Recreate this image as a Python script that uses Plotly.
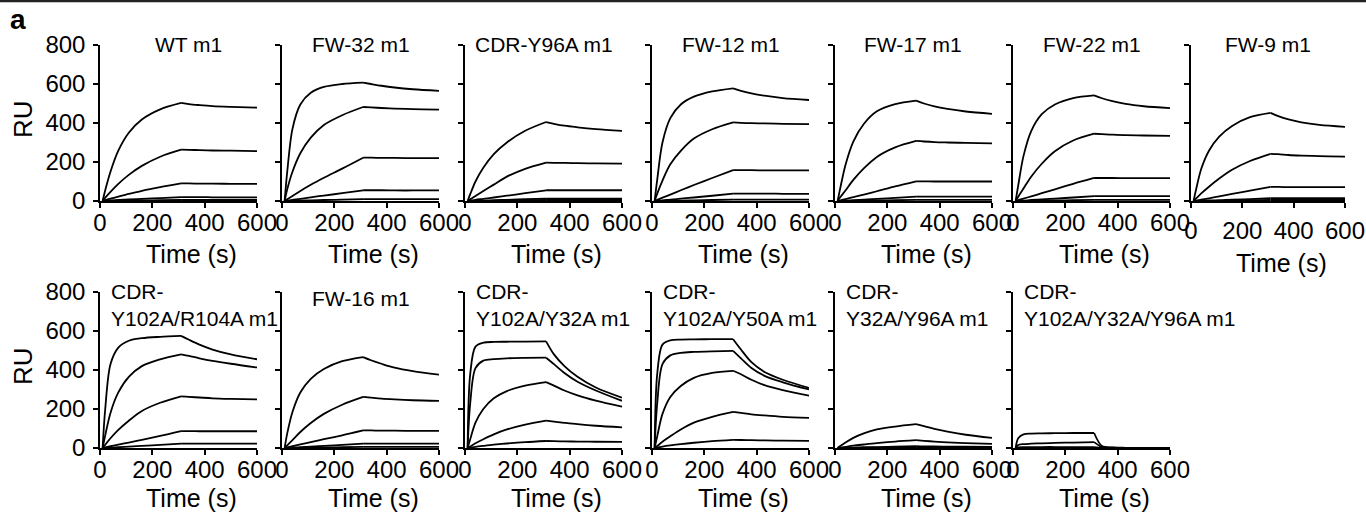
import plotly.graph_objects as go

# Sample times (s): association phase, then dissociation phase
T_ASSOC = [10, 20, 40, 70, 110, 160, 230, 310]
T_DISSOC = [340, 380, 430, 500, 600]

# Response (RU) per analyte concentration: 8 association values followed by 5 dissociation values
WT_M1 = [
    [0, 55, 150, 258, 350, 418, 470, 503, 497, 492, 487, 483, 479],
    [0, 17, 47, 88, 134, 180, 227, 263, 262, 261, 259, 258, 256],
    [0, 4, 12, 23, 36, 52, 71, 90, 90, 89, 89, 88, 88],
    [0, 1, 3, 5, 8, 11, 15, 20, 20, 20, 19, 19, 19],
    [0, 0, 1, 1, 2, 3, 4, 5, 5, 5, 5, 5, 5],
]
FW32_M1 = [
    [0, 150, 370, 495, 555, 585, 600, 607, 600, 591, 582, 573, 565],
    [0, 60, 150, 245, 325, 390, 440, 482, 480, 477, 474, 471, 469],
    [0, 9, 26, 51, 83, 119, 166, 222, 222, 221, 221, 220, 220],
    [0, 2, 6, 11, 19, 28, 40, 55, 55, 55, 54, 54, 54],
    [0, 0, 1, 2, 3, 5, 7, 10, 10, 10, 10, 10, 10],
]
CDR_Y96A_M1 = [
    [0, 35, 100, 170, 240, 300, 360, 405, 396, 386, 378, 369, 360],
    [0, 9, 26, 51, 84, 125, 165, 197, 196, 195, 194, 193, 192],
    [0, 2, 6, 11, 18, 27, 40, 55, 55, 55, 55, 55, 55],
    [0, 0, 1, 2, 4, 6, 9, 12, 12, 12, 12, 12, 12],
    [0, 0, 0, 1, 1, 2, 3, 5, 5, 5, 5, 5, 5],
]
FW12_M1 = [
    [0, 110, 300, 425, 495, 535, 562, 578, 565, 552, 540, 528, 518],
    [0, 38, 105, 188, 257, 320, 368, 403, 401, 399, 398, 396, 394],
    [0, 6, 17, 33, 55, 82, 118, 158, 158, 158, 157, 157, 157],
    [0, 1, 3, 7, 12, 18, 27, 38, 38, 38, 38, 37, 37],
    [0, 0, 1, 1, 2, 3, 5, 7, 7, 7, 7, 7, 7],
]
FW17_M1 = [
    [0, 65, 185, 305, 395, 460, 497, 515, 500, 485, 472, 459, 447],
    [0, 19, 54, 108, 167, 226, 275, 308, 305, 302, 300, 298, 296],
    [0, 3, 10, 20, 33, 50, 75, 101, 101, 100, 100, 100, 100],
    [0, 1, 2, 4, 7, 11, 16, 22, 22, 22, 22, 22, 22],
    [0, 0, 1, 1, 2, 3, 4, 6, 6, 6, 6, 6, 6],
]
FW22_M1 = [
    [0, 80, 230, 360, 445, 495, 528, 542, 527, 512, 498, 486, 476],
    [0, 22, 64, 126, 191, 255, 310, 345, 343, 340, 338, 336, 334],
    [0, 4, 12, 24, 40, 60, 88, 118, 118, 118, 117, 117, 117],
    [0, 1, 2, 5, 8, 12, 18, 25, 25, 25, 25, 25, 25],
    [0, 0, 1, 1, 2, 3, 4, 6, 6, 6, 6, 6, 6],
]
FW9_M1 = [
    [0, 60, 165, 258, 330, 385, 430, 452, 435, 418, 403, 390, 380],
    [0, 13, 39, 73, 115, 160, 205, 242, 240, 236, 233, 230, 228],
    [0, 2, 7, 14, 24, 36, 53, 72, 72, 71, 71, 71, 71],
    [0, 0, 1, 3, 4, 7, 10, 14, 14, 14, 14, 14, 14],
    [0, 0, 0, 1, 1, 2, 3, 5, 5, 5, 5, 5, 5],
]
CDR_Y102A_R104A_M1 = [
    [0, 200, 430, 515, 550, 563, 570, 575, 555, 530, 505, 480, 455],
    [0, 65, 180, 285, 365, 420, 455, 480, 472, 460, 447, 432, 413],
    [0, 17, 50, 93, 140, 190, 232, 265, 262, 259, 255, 252, 249],
    [0, 3, 9, 17, 28, 42, 62, 87, 87, 86, 86, 86, 86],
    [0, 1, 2, 4, 7, 11, 16, 22, 22, 22, 22, 22, 22],
]
FW16_M1 = [
    [0, 75, 185, 285, 355, 405, 445, 466, 450, 432, 412, 394, 376],
    [0, 14, 41, 82, 128, 175, 222, 262, 258, 253, 249, 245, 242],
    [0, 3, 9, 18, 30, 45, 65, 90, 90, 89, 89, 88, 88],
    [0, 1, 2, 4, 7, 11, 16, 22, 22, 22, 22, 22, 22],
    [0, 0, 1, 1, 2, 3, 4, 6, 6, 6, 6, 6, 6],
]
CDR_Y102A_Y32A_M1 = [
    [0, 380, 520, 540, 544, 545, 546, 547, 480, 420, 365, 310, 258],
    [0, 230, 410, 448, 456, 460, 462, 463, 430, 385, 340, 295, 242],
    [0, 45, 130, 200, 255, 292, 320, 338, 320, 295, 270, 243, 212],
    [0, 8, 24, 45, 70, 95, 120, 140, 135, 129, 122, 114, 106],
    [0, 2, 6, 11, 17, 23, 30, 36, 35, 34, 33, 32, 31],
]
CDR_Y102A_Y50A_M1 = [
    [0, 380, 530, 552, 556, 557, 558, 558, 505, 440, 390, 350, 308],
    [0, 230, 430, 475, 488, 493, 496, 498, 460, 410, 370, 337, 300],
    [0, 60, 175, 262, 318, 360, 385, 396, 378, 350, 322, 297, 268],
    [0, 10, 32, 60, 95, 130, 160, 185, 180, 173, 167, 160, 154],
    [0, 2, 7, 13, 20, 27, 35, 42, 41, 40, 39, 38, 37],
]
CDR_Y32A_Y96A_M1 = [
    [0, 10, 28, 52, 75, 95, 110, 122, 112, 98, 84, 68, 52],
    [0, 2, 6, 12, 18, 25, 33, 40, 37, 33, 29, 25, 21],
    [0, 0, 1, 2, 4, 5, 7, 9, 8, 8, 7, 7, 6],
    [0, 0, 0, 1, 1, 2, 2, 3, 3, 3, 3, 3, 3],
]
CDR_Y102A_Y32A_Y96A_M1 = [
    [0, 50, 70, 74, 75, 76, 77, 77, 10, 3, 1, 0, 0],
    [0, 15, 20, 22, 24, 26, 28, 30, 5, 2, 1, 0, 0],
    [0, 3, 4, 4, 5, 5, 5, 5, 1, 0, 0, 0, 0],
]

X_TICKS = [0, 200, 400, 600]
Y_TICKS = [0, 200, 400, 600, 800]

# (row, col, title, curves)
PANELS = [
    (1, 1, "WT m1", WT_M1),
    (1, 2, "FW-32 m1", FW32_M1),
    (1, 3, "CDR-Y96A m1", CDR_Y96A_M1),
    (1, 4, "FW-12 m1", FW12_M1),
    (1, 5, "FW-17 m1", FW17_M1),
    (1, 6, "FW-22 m1", FW22_M1),
    (1, 7, "FW-9 m1", FW9_M1),
    (2, 1, "CDR-<br>Y102A/R104A m1", CDR_Y102A_R104A_M1),
    (2, 2, "FW-16 m1", FW16_M1),
    (2, 3, "CDR-<br>Y102A/Y32A m1", CDR_Y102A_Y32A_M1),
    (2, 4, "CDR-<br>Y102A/Y50A m1", CDR_Y102A_Y50A_M1),
    (2, 5, "CDR-<br>Y32A/Y96A m1", CDR_Y32A_Y96A_M1),
    (2, 6, "CDR-<br>Y102A/Y32A/Y96A m1", CDR_Y102A_Y32A_Y96A_M1),
]

# ---- page geometry (pixels) ----
W, H = 1366, 514
COL_X = [100, 282, 465, 652, 835, 1013, 1191]
COL_W = [157, 157, 157, 157, 157, 157, 154]
ROW_Y = {1: (45, 201), 2: (292, 448)}
FONT = "Liberation Sans, Arial, Helvetica, sans-serif"


def fx(p):
    return p / W


def fy(p):
    return 1 - p / H


fig = go.Figure()
layout_axes = {}
annotations = []

for row, col, title, curves in PANELS:
    k = (row - 1) * 7 + col
    xa = "x" if k == 1 else f"x{k}"
    ya = "y" if k == 1 else f"y{k}"
    left = COL_X[col - 1]
    width = COL_W[col - 1]
    top, bottom = ROW_Y[row]

    for vals in curves:
        n = len(T_ASSOC)
        fig.add_trace(go.Scatter(
            x=T_ASSOC, y=vals[:n], xaxis=xa, yaxis=ya, mode="lines",
            line=dict(color="black", width=1.8, shape="spline", smoothing=0.9),
            showlegend=False, hoverinfo="skip"))
        fig.add_trace(go.Scatter(
            x=[T_ASSOC[-1]] + T_DISSOC, y=vals[n - 1:], xaxis=xa, yaxis=ya,
            mode="lines",
            line=dict(color="black", width=1.8, shape="spline", smoothing=0.9),
            showlegend=False, hoverinfo="skip"))

    axis_common = dict(
        showline=True, linecolor="black", linewidth=1.5, mirror=False,
        ticks="outside", ticklen=5, tickwidth=1.5, tickcolor="black",
        showgrid=False, zeroline=False, fixedrange=True, automargin=False,
        ticklabeloverflow="allow",
        tickfont=dict(family=FONT, size=24, color="black"),
    )
    layout_axes["xaxis" if k == 1 else f"xaxis{k}"] = dict(
        axis_common, domain=[fx(left), fx(left + width)], range=[0, 600],
        tickvals=X_TICKS, anchor=ya,
        ticklabelstandoff=(2 if (row, col) == (1, 7) else -6),
    )
    layout_axes["yaxis" if k == 1 else f"yaxis{k}"] = dict(
        axis_common, domain=[fy(bottom), fy(top)], range=[0, 800],
        tickvals=Y_TICKS, anchor=xa, showticklabels=(col == 1),
        ticklabelstandoff=3,
    )

    # panel title
    if title.startswith("CDR-<br>"):
        annotations.append(dict(
            text=title, xref="paper", yref="paper", x=fx(left + 9),
            y=fy(top - 14), xanchor="left", yanchor="top", align="left",
            showarrow=False, font=dict(family=FONT, size=21, color="black")))
    else:
        cx = left + width / 2 + (10 if title == "WT m1" else 0)
        annotations.append(dict(
            text=title, xref="paper", yref="paper", x=fx(cx),
            y=fy(top - 1 if row == 1 else top + 6), xanchor="center",
            yanchor="middle", showarrow=False,
            font=dict(family=FONT, size=21, color="black")))

    # x-axis title
    ty = {1: 254, 2: 498}[row] + (9 if (row, col) == (1, 7) else 0)
    annotations.append(dict(
        text="Time (s)", xref="paper", yref="paper",
        x=fx(left + width / 2 + 13), y=fy(ty), xanchor="center",
        yanchor="middle", showarrow=False,
        font=dict(family=FONT, size=25, color="black")))

# y-axis titles
for row in (1, 2):
    top, bottom = ROW_Y[row]
    annotations.append(dict(
        text="RU", xref="paper", yref="paper", x=fx(23),
        y=fy((top + bottom) / 2 - 4), xanchor="center", yanchor="middle",
        textangle=-90, showarrow=False,
        font=dict(family=FONT, size=26, color="black")))

# figure panel letter
annotations.append(dict(
    text="<b>a</b>", xref="paper", yref="paper", x=fx(18), y=fy(20),
    xanchor="center", yanchor="middle", showarrow=False,
    font=dict(family=FONT, size=28, color="black")))

fig.update_layout(
    template="none",
    width=W, height=H, autosize=False,
    margin=dict(l=0, r=0, t=0, b=0, pad=0),
    paper_bgcolor="white", plot_bgcolor="white",
    annotations=annotations,
    shapes=[dict(type="line", xref="paper", yref="paper", x0=0, x1=1,
                 y0=fy(1), y1=fy(1), line=dict(color="#222", width=2.5))],
    **layout_axes,
)

fig.write_html(
    "out.html",
    config={"displayModeBar": False},
    post_script="document.body.style.margin='0';document.body.style.overflow='hidden';",
)
